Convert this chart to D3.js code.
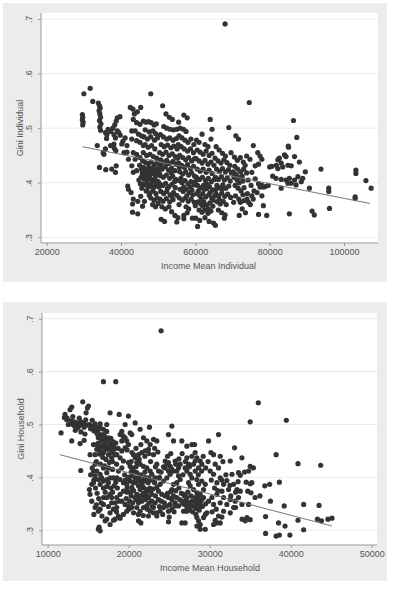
<!DOCTYPE html>
<html lang="en">
<head>
<meta charset="UTF-8">
<title>Gini vs Income Mean</title>
<script src="https://d3js.org/d3.v7.min.js"></script>
<style>
  body { margin: 0; padding: 0; background: #fff; font-family: Arial, "Liberation Sans", sans-serif; }
  svg { display: block; }
  .tick text { fill: #555; font-size: 9px; }
  .axis-title { fill: #555; font-size: 9px; }
</style>
</head>
<body>
<svg id="chart" width="405" height="598"></svg>
<script>
// tick labels
const yTicks = [0.3, 0.4, 0.5, 0.6, 0.7];
const xTicksInd = [20000, 40000, 60000, 80000, 100000];
const xTicksHh = [10000, 20000, 30000, 40000, 50000];

// fitted lines
const fitInd = [[29600, 0.466], [107000, 0.362]];
const fitHh = [[11500, 0.443], [45100, 0.308]];

// Income Mean Individual vs Gini Individual
const pointsInd = [
  [29600,.525],[29700,.520],[29600,.515],[29800,.511],[29700,.506],[30000,.563],[31700,.573],[32400,.549],
  [33900,.546],[34200,.541],[34400,.537],[34100,.532],[34300,.526],[34500,.520],[34200,.514],[34600,.508],
  [34300,.502],[34500,.496],[33600,.468],[34200,.428],[35200,.455],[35400,.452],
  [35800,.492],[36200,.488],[35900,.424],[36100,.481],[36500,.498],[37200,.494],[37800,.500],[38300,.506],
  [38700,.513],[39000,.519],[38100,.488],[38500,.482],[39000,.495],[39400,.492],[37200,.468],[38100,.471],
  [38600,.459],[37500,.425],[38700,.431],[38500,.419],[35800,.462],[38200,.463],[39800,.487],[40200,.471],[39700,.521],
  [40500,.476],[41100,.482],[41600,.468],[40800,.455],[42000,.443],[41600,.456],[41800,.394],[42000,.388],
  [42700,.382],[43100,.361],[43100,.346],[44500,.343],[42500,.538],[43200,.535],[43600,.526],[44400,.530],
  [45300,.538],[43300,.516],[44200,.510],[45100,.507],[42900,.495],[43800,.495],[44700,.489],[45500,.486],
  [42900,.480],[44200,.477],[45100,.474],[46000,.468],[43300,.455],[44200,.452],[45100,.446],[43800,.443],
  [42900,.431],[43300,.419],[44200,.422],[45500,.425],[43300,.370],[44500,.366],[45300,.375],
  [46000,.513],[46700,.511],[47400,.512],[48100,.510],[48900,.506],[49500,.508],[48000,.563],[46500,.497],
  [47600,.493],[48600,.495],[49300,.490],[46200,.484],[47100,.480],[48000,.484],[49000,.478],[49800,.482],
  [46500,.470],[47300,.465],[48200,.468],[49100,.462],[46000,.455],[46900,.450],[47800,.452],[48700,.448],
  [49600,.445],[45800,.440],[46600,.437],[47300,.435],[48100,.438],[48900,.433],[49700,.436],[46000,.428],
  [46800,.425],[47500,.428],[48300,.424],[49000,.427],[49800,.422],[45700,.418],[46400,.415],[47100,.418],
  [47800,.414],[48500,.417],[49300,.413],[46200,.407],[47000,.404],[47700,.408],[48500,.403],[49200,.406],
  [50000,.402],[46500,.396],[47300,.393],[48100,.397],[48900,.392],[49600,.395],[47000,.385],[47800,.381],
  [48600,.385],[49400,.380],[48000,.372],[48900,.368],[49700,.372],[48500,.360],[49300,.356],[50000,.362],
  [46300,.366],[45800,.357],
  [45000,.432],[45400,.410],[45900,.398],[46300,.424],[46700,.412],[47200,.398],[47600,.420],[48000,.407],
  [48400,.392],[48800,.428],[49200,.418],[49500,.400],[50300,.418],[50600,.432],[45200,.398],[46800,.385],
  [47600,.377],[45600,.390],[44800,.405],[50200,.392],
  [51200,.541],[52100,.526],[53000,.520],[53800,.516],[51500,.503],[52300,.500],[53200,.498],[54100,.497],
  [55000,.498],[55900,.500],[56800,.498],[57500,.494],[56900,.524],[57800,.519],[55500,.511],[50600,.488],
  [51400,.484],[52300,.480],[53100,.482],[54000,.478],[54900,.481],[50800,.470],[51600,.466],[52500,.469],
  [53400,.464],[54200,.467],[55100,.462],[50400,.455],[51200,.452],[52100,.456],[52900,.450],[53800,.453],
  [54600,.448],[50700,.442],[51500,.438],[52300,.441],[53100,.436],[54000,.439],[54800,.434],[50300,.428],
  [51100,.425],[51900,.429],[52800,.423],[53600,.427],[54500,.422],[50600,.413],[51400,.410],[52200,.414],
  [53100,.408],[53900,.412],[54700,.406],[50400,.398],[51200,.395],[52000,.399],[52900,.393],[53700,.397],
  [54600,.391],[50700,.384],[51500,.380],[52300,.384],[53200,.378],[54100,.382],[55000,.377],[50500,.370],
  [51300,.366],[52200,.371],[53100,.365],[54000,.369],[51000,.356],[51900,.352],[52900,.356],[50800,.333],
  [51700,.329],[53600,.347],[54500,.340],[55300,.336],[55000,.328],
  [52600,.435],[53500,.418],[54400,.402],[55200,.445],[55700,.428],[56100,.408],[56900,.392],[57700,.376],
  [58600,.392],[59300,.378],[60000,.402],[60800,.385],[61600,.370],[62400,.388],[63200,.397],[64000,.382],
  [64800,.368],[65600,.388],[66400,.370],[67200,.388],[52500,.390],[53600,.375],[55600,.360],[57800,.345],
  [60000,.358],[62000,.357],[63500,.352],
  [55600,.486],[56400,.482],[57200,.478],[58000,.474],[58800,.480],[59600,.470],[55400,.470],[56200,.466],
  [57000,.462],[57900,.458],[58700,.462],[59500,.455],[55800,.450],[56600,.446],[57400,.442],[58200,.446],
  [59000,.440],[59800,.444],[55500,.436],[56300,.432],[57100,.428],[57900,.433],[58700,.426],[59500,.430],
  [55800,.420],[56600,.416],[57400,.420],[58200,.414],[59000,.418],[59800,.412],[55600,.404],[56400,.400],
  [57200,.404],[58000,.398],[58800,.402],[59600,.396],[55900,.388],[56700,.384],[57500,.388],[58300,.382],
  [59100,.386],[55700,.372],[56500,.368],[57300,.372],[58100,.366],[58900,.370],[59700,.364],[56900,.340],
  [56900,.334],[58200,.352],[59200,.335],[57500,.356],
  [60300,.478],[61000,.474],[61800,.489],[62600,.470],[63400,.466],[64000,.516],[64500,.498],[64200,.480],
  [60500,.460],[61300,.456],[62100,.452],[62900,.458],[63700,.450],[64500,.454],[60200,.444],[61000,.440],
  [61800,.436],[62600,.441],[63400,.434],[64200,.438],[65000,.432],[60500,.425],[61300,.421],[62100,.425],
  [62900,.419],[63700,.423],[64500,.417],[60300,.410],[61100,.406],[61900,.410],[62700,.404],[63500,.408],
  [64300,.402],[65100,.406],[60600,.395],[61400,.391],[62200,.395],[63000,.389],[63800,.393],[64600,.387],
  [60400,.380],[61200,.376],[62000,.380],[62800,.374],[63600,.378],[64400,.372],[65200,.376],[60700,.365],
  [61500,.361],[62300,.365],[63100,.359],[63900,.363],[64700,.357],[61000,.350],[61800,.346],[62600,.350],
  [63400,.344],[64200,.348],[60100,.335],[61200,.331],[62600,.336],[63700,.329],[64900,.326],[65400,.322],[60600,.320],
  [65600,.466],[66400,.460],[67300,.454],[68100,.449],[69000,.501],[69600,.455],[65300,.445],[66100,.440],
  [66900,.436],[67700,.442],[68500,.437],[69300,.432],[65700,.425],[66500,.421],[67300,.426],[68100,.420],
  [68900,.424],[69700,.418],[65400,.410],[66200,.406],[67000,.411],[67800,.405],[68600,.409],[69400,.403],
  [65800,.395],[66600,.391],[67400,.396],[68200,.390],[69000,.394],[65500,.380],[66300,.376],[67100,.381],
  [67900,.375],[68700,.379],[69500,.373],[65900,.365],[66700,.361],[67500,.366],[68300,.360],[66200,.350],
  [67100,.345],[68000,.341],[67800,.335],[68000,.691],
  [70500,.447],[71300,.441],[72100,.446],[72900,.438],[70900,.486],[71600,.480],[73800,.449],[74700,.443],
  [74500,.547],[75600,.468],[76800,.455],[77400,.449],[77900,.443],[77000,.434],[76100,.431],[75200,.419],
  [76100,.407],[77000,.398],[77400,.392],[77900,.395],[78300,.392],[78800,.393],[76600,.382],[75200,.376],
  [75600,.370],[74300,.364],[73900,.370],[73000,.367],[72100,.364],[71700,.370],[70800,.376],[70300,.364],
  [77900,.376],[78300,.358],[70600,.430],[71400,.425],[72200,.420],[73000,.425],[73800,.418],[70400,.410],
  [71200,.405],[72000,.410],[72800,.403],[70700,.395],[71500,.390],[72300,.385],[73100,.391],[72600,.352],
  [73500,.345],[74800,.360],[77000,.342],[79200,.340],[71800,.340],
  [70200,.420],[71000,.415],[71800,.400],[72600,.412],[73400,.432],[74200,.405],[75000,.395],[75800,.385],
  [74000,.380],[72800,.378],
  [80000,.429],[81800,.432],[82200,.442],[82600,.445],[83100,.436],[83500,.429],[82200,.426],[84000,.451],
  [84400,.448],[84900,.432],[85800,.431],[86700,.448],[85100,.465],[86400,.514],[87300,.483],[88000,.438],
  [89600,.420],[81700,.408],[83100,.406],[84400,.405],[85300,.408],[86700,.405],[85800,.399],[87100,.396],
  [88500,.402],[88900,.408],[87600,.411],[84900,.399],[83100,.390],[90700,.390],[95900,.390],[95900,.384],
  [93800,.425],[103200,.423],[103200,.417],[105900,.404],[107300,.390],[103000,.374],[103000,.371],
  [85300,.343],[91400,.348],[92000,.341],[96100,.353],[80800,.412],[79600,.395],[80600,.430],[85000,.467]
];

// Income Mean Household vs Gini Household
const pointsHh = [
  [11650,.484],[12060,.513],[12140,.519],[12350,.509],[12760,.528],[12970,.533],[12550,.500],[12970,.501],
  [13250,.498],[13580,.500],[12970,.469],[14330,.543],[13850,.497],[14200,.500],[14500,.495],[14000,.464],
  [14080,.413],[13400,.489],[13700,.494],[14100,.486],[14600,.482],[14500,.470],
  [12400,.512],[12900,.507],[13300,.505],[13700,.503],[14100,.505],[14500,.502],[14900,.499],[15300,.492],
  [15700,.488],[15900,.495],[16200,.489],[16500,.493],[13100,.515],[13900,.512],[14700,.509],[15500,.508],
  [14900,.531],[15030,.535],[14740,.522],[15150,.500],[15440,.497],[15850,.501],[16060,.494],[16470,.501],
  [16880,.491],[16060,.484],[16470,.481],[16880,.481],[17290,.487],[16260,.475],[16670,.469],[17090,.462],
  [17500,.475],[17700,.465],[17910,.459],[17290,.453],[16880,.447],[16470,.450],[17500,.443],[17910,.437],
  [18320,.443],[18200,.453],[18120,.459],[16060,.462],[15650,.462],[15230,.443],[15850,.425],[16060,.412],
  [16470,.406],[16670,.399],[16260,.396],[16880,.393],[17290,.396],[17700,.399],[18120,.399],[16470,.387],
  [16880,.380],[15650,.390],[15150,.377],[15230,.368],[15440,.355],[15850,.343],[16260,.336],[16470,.340],
  [16880,.349],[17290,.362],[17700,.368],[17910,.362],[18320,.352],[18530,.343],[18120,.340],[17700,.333],
  [17290,.321],[17090,.318],[17700,.311],[18120,.319],[16260,.302],[16470,.299],[16350,.306],[16880,.581],
  [18400,.581],[17700,.522],[18820,.519],[17290,.500],[16260,.465],[16670,.459],[17090,.453],[17500,.459],
  [16470,.456],[16880,.469],[17290,.472],[17700,.453],[17910,.447],[16060,.453],[15850,.443],[15650,.412],
  [16880,.418],[17290,.409],[15850,.403],[15440,.387],
  [16200,.480],[16600,.476],[17000,.478],[17400,.470],[17800,.474],[18100,.467],[16400,.444],[16800,.438],
  [17200,.434],[17600,.428],[18000,.430],[16000,.430],[16500,.425],[17000,.422],[17500,.418],[18000,.415],
  [18500,.425],[18700,.455],[18400,.465],
  [15500,.418],[15300,.405],[15700,.395],[15900,.380],[16100,.370],[16300,.360],[16600,.352],[16900,.362],
  [17100,.372],[17300,.383],[17500,.390],[17800,.380],[18000,.372],[18200,.384],[18400,.391],[18600,.380],
  [18800,.355],[17500,.345],[17900,.352],[16000,.348],[15700,.330],[16700,.327],[18500,.335],
  [19970,.516],[19560,.500],[19150,.487],[18940,.481],[19350,.478],[19560,.475],[19150,.469],[19760,.469],
  [20180,.484],[20380,.481],[19970,.462],[19560,.456],[19150,.450],[18530,.443],[18940,.437],[19350,.431],
  [19970,.428],[20180,.421],[20380,.418],[19150,.418],[18730,.412],[18530,.399],[18940,.396],[19350,.390],
  [19760,.387],[20180,.393],[20380,.381],[19350,.374],[18940,.368],[18530,.362],[19150,.355],[19560,.349],
  [19970,.346],[20380,.343],[19760,.336],[19350,.330],[18730,.327],[18320,.321],[18940,.323],[20590,.412],
  [21000,.409],[20800,.399],[21210,.393],[20590,.390],
  [19600,.395],[20000,.400],[20400,.403],[20800,.390],[21200,.398],[21600,.395],[22000,.400],[22400,.390],
  [22800,.395],[23200,.390],[19800,.380],[20200,.372],[20600,.375],[21000,.368],[21400,.365],[21800,.370],
  [22200,.366],[22600,.380],[23000,.378],[19700,.360],[20100,.355],[20500,.352],[20900,.358],[21300,.360],
  [21700,.365],[22100,.372],[22500,.352],[22900,.345],[23300,.365],[20000,.340],[20600,.333],[21200,.330],
  [21800,.328],[22300,.340],[20300,.365],[19800,.372],[21500,.405],[22000,.410],[20300,.410],[19500,.405],
  [19800,.452],[20400,.447],[20900,.455],[21500,.462],[22000,.440],[22500,.445],[23200,.455],[23600,.448],
  [20300,.430],[20900,.420],[21300,.434],[22700,.430],[23300,.420],
  [21410,.491],[21820,.475],[22240,.469],[22650,.462],[22440,.453],[22030,.450],[21620,.447],[21210,.443],
  [20800,.437],[21000,.428],[21410,.425],[21820,.421],[22240,.418],[22650,.412],[22850,.406],[22440,.399],
  [22030,.393],[21620,.387],[21210,.384],[21410,.377],[21820,.381],[22240,.377],[22650,.374],[22850,.368],
  [22440,.362],[22030,.358],[21620,.355],[21210,.352],[20800,.362],[21000,.343],[21410,.336],[21820,.343],
  [22240,.346],[22650,.336],[23060,.333],[22440,.327],[21210,.318],[21500,.314],[20800,.503],[20590,.443],
  [22560,.495],[23060,.472],
  [24910,.481],[25330,.497],[25530,.469],[24500,.431],[24910,.428],[25120,.421],[25330,.415],[25530,.412],
  [25940,.412],[26150,.418],[26360,.425],[25740,.431],[24710,.425],[24500,.418],[24910,.412],[25120,.406],
  [24710,.399],[24300,.393],[23880,.387],[23470,.381],[23680,.374],[24090,.368],[24500,.365],[24910,.362],
  [25330,.358],[25530,.365],[25940,.362],[25740,.352],[25120,.349],[24710,.346],[24300,.343],[23880,.336],
  [23470,.333],[23060,.343],[23270,.352],[23680,.358],[22850,.355],[24910,.336],[25330,.340],[25740,.346],
  [26150,.346],[24910,.316],[23470,.327],[26150,.403],[26360,.396],[25940,.390],[25530,.387],[25330,.377],
  [23470,.425],[23680,.412],[23270,.399],[23470,.469],[23060,.443],[24000,.677],
  [24000,.410],[24300,.420],[24800,.440],[25200,.445],[25800,.425],[26200,.435],[26600,.445],[27000,.430],
  [27500,.420],[27800,.440],[28200,.447],[28600,.405],[29000,.412],[29500,.418],[29800,.430],[29200,.440],
  [23800,.400],[26700,.405],
  [25800,.375],[26200,.380],[26500,.370],[26900,.365],[27300,.372],[27700,.365],[28100,.355],[28500,.358],
  [28900,.345],[26300,.358],[26700,.350],[27100,.357],[27500,.338],[27900,.335],[28300,.330],[28700,.338],
  [29100,.345],[29500,.350],[24000,.355],[24400,.352],[24800,.370],[25200,.373],[23800,.345],[24200,.330],
  [25000,.325],[25600,.335],
  [26560,.469],[27180,.459],[27800,.462],[28130,.462],[27180,.437],[27390,.425],[26970,.418],[27180,.412],
  [27590,.406],[28000,.425],[28210,.431],[28420,.437],[28830,.431],[29030,.425],[28620,.418],[28210,.412],
  [27800,.399],[27390,.390],[27590,.384],[28000,.377],[28420,.371],[28620,.365],[28210,.362],[27800,.355],
  [27390,.352],[26970,.349],[27180,.343],[27590,.346],[28000,.346],[28420,.349],[28830,.352],[29030,.358],
  [29240,.362],[28830,.368],[29240,.377],[29450,.387],[29030,.393],[28620,.387],[28420,.396],[27180,.362],
  [26770,.368],[26560,.355],[26770,.336],[27180,.336],[26560,.314],[26970,.314],[28420,.324],[28620,.318],
  [28830,.311],[28420,.308],[28830,.302],[29240,.324],[29450,.330],[29650,.333],[29450,.302],[27800,.346],
  [28210,.343],[28420,.341],
  [29860,.469],[31090,.481],[30150,.447],[30480,.443],[31300,.440],[30680,.425],[31630,.430],[32540,.431],
  [31090,.418],[30060,.412],[30480,.406],[31300,.399],[30890,.390],[31710,.387],[32120,.394],[32950,.387],
  [32330,.377],[31510,.374],[30890,.368],[30270,.362],[29860,.355],[30480,.349],[31300,.352],[31710,.362],
  [32540,.358],[33150,.355],[33560,.362],[32950,.343],[32120,.349],[31710,.336],[31090,.327],[30680,.319],
  [30480,.311],[30890,.314],[31300,.314],[32540,.333],[33070,.456],[33770,.404],[33560,.409],[33770,.374],
  [33360,.377],[32750,.406],[33980,.349],
  [30200,.395],[30600,.380],[31000,.375],[31500,.395],[32000,.405],[32500,.385],[30300,.335],[30800,.340],
  [31500,.325],[32600,.365],[33200,.372],[33500,.392],
  [36900,.326],[36900,.294],[38200,.289],[38600,.291],[39900,.291],[38500,.314],[39300,.308],[39200,.346],
  [38600,.391],[41600,.349],[40900,.319],[41600,.301],[43500,.347],[43300,.321],[43800,.318],[44600,.321],
  [45100,.323],[37500,.355],[37400,.387],[36800,.384],[36200,.365],[35600,.362],[35200,.390],[35000,.421],
  [35400,.418],[34800,.349],[34600,.324],[34000,.321],[34400,.318],[35000,.320],[33200,.343],[36000,.541],
  [35000,.505],[39460,.508],[43700,.423],[40900,.426],[38200,.443],[33980,.437],[34300,.410],[34800,.412],
  [34500,.391],[35000,.388],[34700,.374],[35100,.371]
];

const svg = d3.select("#chart");

function drawPanel(o) {
  const g = svg.append("g");

  // graph region
  g.append("rect")
    .attr("x", o.bg[0]).attr("y", o.bg[1])
    .attr("width", o.bg[2] - o.bg[0]).attr("height", o.bg[3] - o.bg[1])
    .attr("fill", "#ececec");
  // plot region
  g.append("rect")
    .attr("x", o.plot[0]).attr("y", o.plot[1])
    .attr("width", o.plot[2] - o.plot[0]).attr("height", o.plot[3] - o.plot[1])
    .attr("fill", "#fff");

  const x = d3.scaleLinear().domain([o.xTicks[0], o.xTicks[o.xTicks.length - 1]]).range(o.xRange);
  const y = d3.scaleLinear().domain([0.3, 0.7]).range(o.yRange);

  // grid
  g.selectAll(".grid").data(yTicks).join("line")
    .attr("x1", o.plot[0]).attr("x2", o.plot[2])
    .attr("y1", d => y(d)).attr("y2", d => y(d))
    .attr("stroke", "#ebebeb").attr("stroke-width", 1);

  // points
  g.append("g").selectAll("circle").data(o.points).join("circle")
    .attr("cx", d => x(d[0]))
    .attr("cy", d => y(d[1]))
    .attr("r", 2.6)
    .attr("fill", "#333");

  // fitted line
  g.append("path")
    .datum(o.fit)
    .attr("d", d3.line().x(d => x(d[0])).y(d => y(d[1])))
    .attr("fill", "none").attr("stroke", "#777").attr("stroke-width", 1);

  // x axis
  const xAxis = g.append("g")
    .attr("transform", `translate(0,${o.plot[3]})`)
    .call(d3.axisBottom(x).tickValues(o.xTicks).tickFormat(d3.format("d")).tickSize(3).tickSizeOuter(0).tickPadding(3));
  xAxis.select(".domain").remove();
  xAxis.insert("line", ":first-child")
    .attr("x1", o.plot[0]).attr("x2", o.plot[2])
    .attr("stroke", "#999");
  xAxis.selectAll(".tick line").attr("stroke", "#999");

  // y axis
  const yAxis = g.append("g")
    .attr("transform", `translate(${o.plot[0]},0)`)
    .call(d3.axisLeft(y).tickValues(yTicks).tickFormat(d => d3.format(".1f")(d).replace(/^0/, "")).tickSize(3).tickSizeOuter(0));
  yAxis.select(".domain").remove();
  yAxis.insert("line", ":first-child")
    .attr("y1", o.plot[1]).attr("y2", o.plot[3])
    .attr("stroke", "#999");
  yAxis.selectAll(".tick line").attr("stroke", "#999");
  yAxis.selectAll(".tick text")
    .attr("x", null).attr("dy", null)
    .attr("text-anchor", "middle")
    .attr("transform", "translate(-9.5,0) rotate(-90)");

  // titles
  g.append("text").attr("class", "axis-title")
    .attr("x", (o.plot[0] + o.plot[2]) / 2 + o.xTitleShift).attr("y", o.plot[3] + 26)
    .attr("text-anchor", "middle").text(o.xTitle);
  g.append("text").attr("class", "axis-title")
    .attr("transform", `translate(${o.plot[0] - 18.5},${(o.plot[1] + o.plot[3]) / 2}) rotate(-90)`)
    .attr("text-anchor", "middle").text(o.yTitle);
}

drawPanel({
  bg: [3, 3, 387, 282],
  plot: [41, 13, 378, 243],
  xRange: [46.7, 344],
  yRange: [237.3, 19],
  xTicks: xTicksInd,
  points: pointsInd,
  fit: fitInd,
  xTitle: "Income Mean Individual",
  xTitleShift: -1,
  yTitle: "Gini Individual"
});

drawPanel({
  bg: [3, 302, 387, 581],
  plot: [42, 313, 377, 545],
  xRange: [47.7, 371.7],
  yRange: [530.3, 318.7],
  xTicks: xTicksHh,
  points: pointsHh,
  fit: fitHh,
  xTitle: "Income Mean Household",
  xTitleShift: 0.5,
  yTitle: "Gini Household"
});
</script>
</body>
</html>
